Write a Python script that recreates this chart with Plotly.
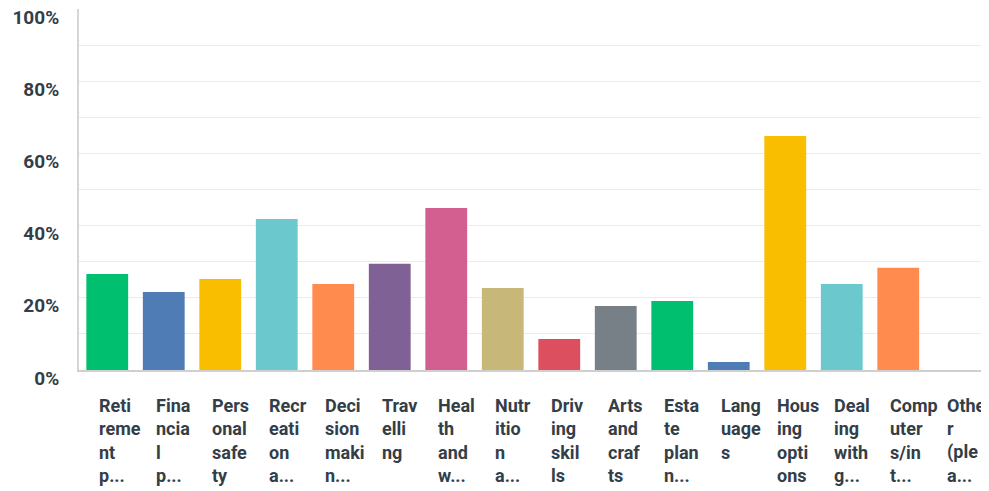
import plotly.graph_objects as go

categories = [
    "Retirement p...", "Financial p...", "Personal safety", "Recreation a...",
    "Decision makin...", "Travelling", "Health and w...", "Nutrition a...",
    "Driving skils", "Arts and crafts", "Estate plann...", "Languages",
    "Housing options", "Dealing with g...", "Computers/int...", "Other (plea...",
]
label_lines = [
    ["Reti", "reme", "nt", "p..."],
    ["Fina", "ncia", "l", "p..."],
    ["Pers", "onal", "safe", "ty"],
    ["Recr", "eati", "on", "a..."],
    ["Deci", "sion", "maki", "n..."],
    ["Trav", "elli", "ng"],
    ["Heal", "th", "and", "w..."],
    ["Nutr", "itio", "n", "a..."],
    ["Driv", "ing", "skil", "ls"],
    ["Arts", "and", "craf", "ts"],
    ["Esta", "te", "plan", "n..."],
    ["Lang", "uage", "s"],
    ["Hous", "ing", "opti", "ons"],
    ["Deal", "ing", "with", "g..."],
    ["Comp", "uter", "s/in", "t..."],
    ["Othe", "r", "(ple", "a..."],
]
values = [0.266, 0.216, 0.252, 0.418, 0.238, 0.294, 0.449, 0.227,
          0.086, 0.177, 0.191, 0.022, 0.648, 0.238, 0.283, 0.0]
y_tickvals = [0, 0.1, 0.2, 0.3, 0.4, 0.5, 0.6, 0.7, 0.8, 0.9, 1.0]
y_ticktext = ["0%", "", "20%", "", "40%", "", "60%", "", "80%", "", "100%"]

colors = ["#00bf6f", "#507cb6", "#f9be00", "#6bc8cd", "#ff8b4f", "#7f6195",
          "#d25f90", "#c7b879", "#dc4f5f", "#768086", "#00bf6f", "#507cb6",
          "#f9be00", "#6bc8cd", "#ff8b4f", "#7f6195"]
text_color = "#333e48"

fig = go.Figure(go.Bar(
    x=list(range(len(categories))), y=values, marker_color=colors,
    marker_line_width=0, hovertext=categories, hoverinfo="text+y",
))

annotations = []
for i, lines in enumerate(label_lines):
    for j, line in enumerate(lines):
        annotations.append(dict(
            x=i, xref="x", y=0, yref="paper", text=line, showarrow=False,
            xanchor="left", yanchor="middle", align="left",
            xshift=-10, yshift=-35 - 23.5 * j,
            font=dict(family="Roboto", size=18, color=text_color, weight="bold"),
        ))

# page body has an 8px default margin; margins compensate for that offset
fig.update_layout(
    template="none",
    width=989, height=491,
    margin=dict(l=71, r=14, t=1, b=129, autoexpand=False),
    paper_bgcolor="white", plot_bgcolor="white",
    bargap=0.26, showlegend=False,
    annotations=annotations,
    xaxis=dict(
        range=[-0.5, len(categories) - 0.5], showticklabels=False, showgrid=False,
        zeroline=False, showline=True, linecolor="#cfcfcf", linewidth=2,
        ticks="", fixedrange=True, automargin=False,
    ),
    yaxis=dict(
        range=[0, 1], tickvals=y_tickvals, ticktext=y_ticktext,
        showgrid=True, gridcolor="#ebebeb", gridwidth=1,
        zeroline=False, showline=True, linecolor="#d6d6d6", linewidth=2,
        ticks="", ticklabelstandoff=14, ticklabelshift=8,
        ticklabeloverflow="allow", automargin=False,
        tickfont=dict(family="Roboto", size=19, color=text_color, weight="bold"),
        fixedrange=True,
    ),
)

fig.write_html("out.html")
